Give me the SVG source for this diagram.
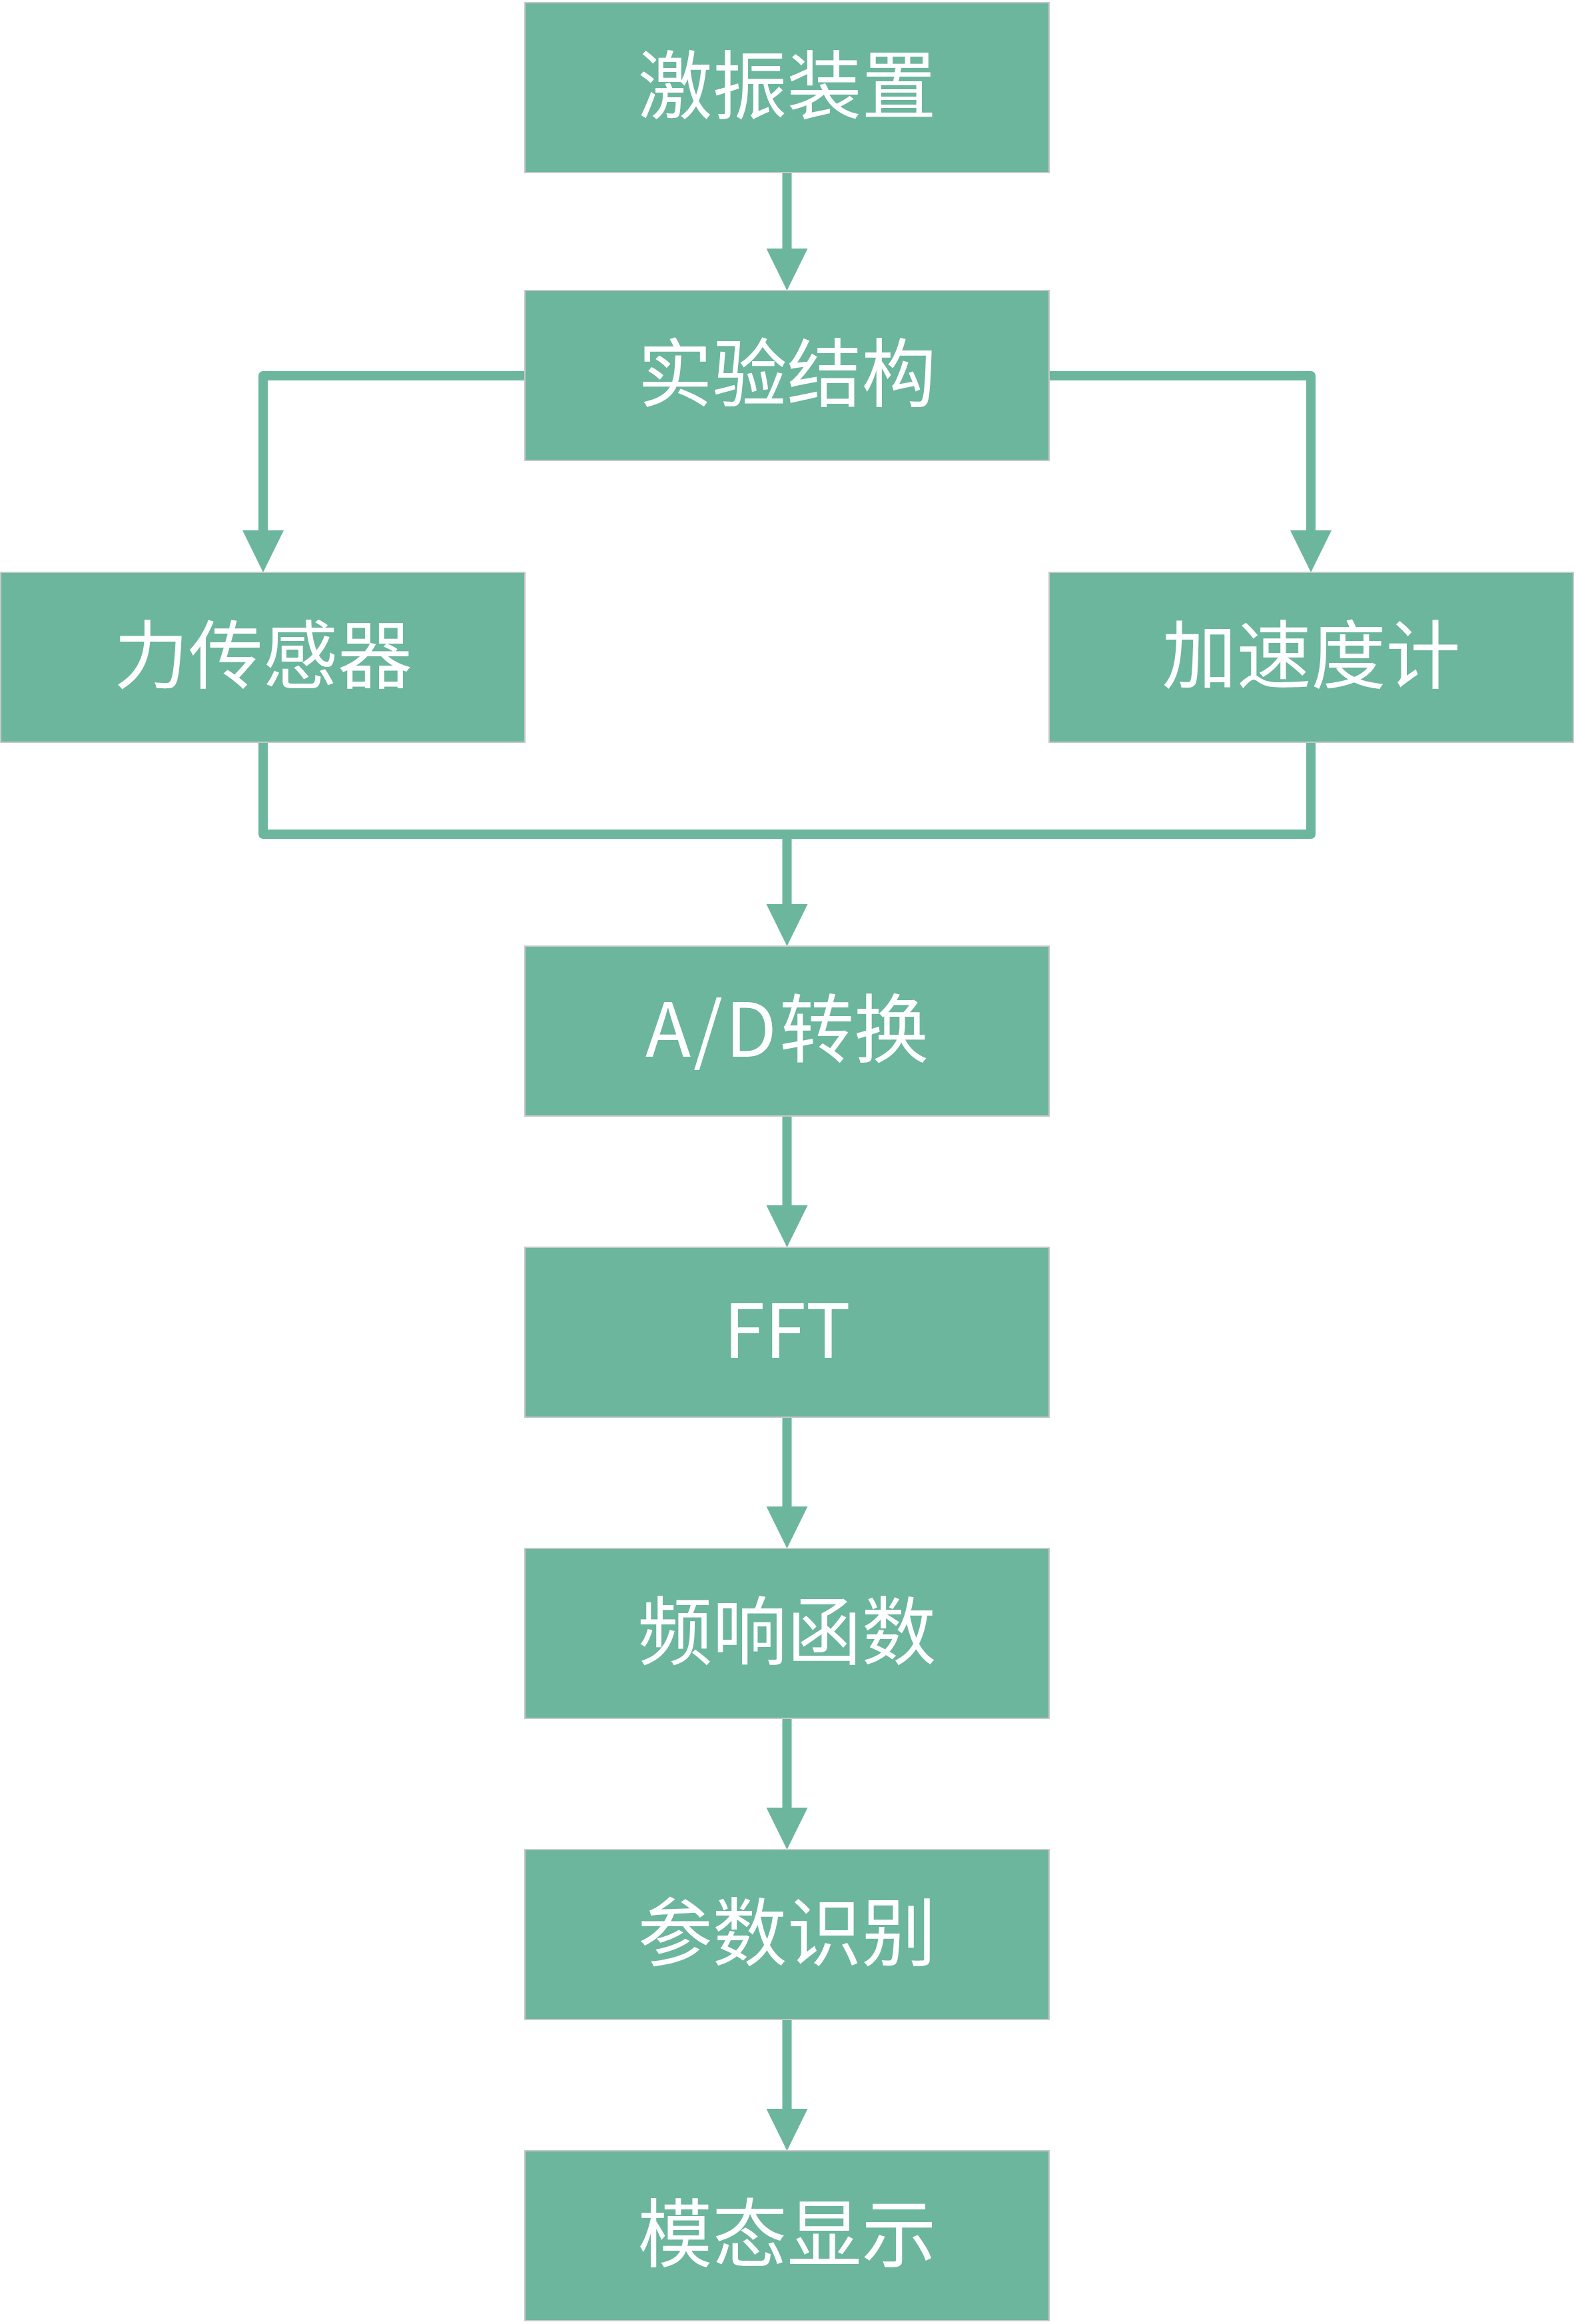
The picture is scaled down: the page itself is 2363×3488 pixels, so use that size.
<svg xmlns="http://www.w3.org/2000/svg" xmlns:xlink="http://www.w3.org/1999/xlink" width="2363" height="3488" viewBox="0 0 2363 3488">
<style>
.box{fill:#6bb69c;stroke:#c8c8c8;stroke-width:2}
.lbl{fill:#ffffff;font-family:"Noto Sans CJK SC","Noto Sans",sans-serif;font-size:112px;text-anchor:middle}
.ln{fill:none;stroke:#6bb69c;stroke-width:14;stroke-linejoin:round}
.head{fill:#6bb69c}
</style>
<defs>
<polygon id="ah" points="-31,-63 31,-63 0,0"/>
</defs>
<rect x="0" y="0" width="2363" height="3488" fill="#ffffff"/>
<g id="connectors">
<path class="ln" d="M1181.5 259 V376"/>
<use xlink:href="#ah" href="#ah" class="head" x="1181.5" y="436"/>
<path class="ln" d="M788 564 H395 V799"/>
<use xlink:href="#ah" href="#ah" class="head" x="395" y="859"/>
<path class="ln" d="M1575 564 H1968 V799"/>
<use xlink:href="#ah" href="#ah" class="head" x="1968" y="859"/>
<path class="ln" d="M395 1114 V1252 H1968 V1114"/>
<path class="ln" d="M1181.5 1252 V1360"/>
<use xlink:href="#ah" href="#ah" class="head" x="1181.5" y="1420"/>
<path class="ln" d="M1181.5 1675 V1812"/>
<use xlink:href="#ah" href="#ah" class="head" x="1181.5" y="1872"/>
<path class="ln" d="M1181.5 2127 V2264"/>
<use xlink:href="#ah" href="#ah" class="head" x="1181.5" y="2324"/>
<path class="ln" d="M1181.5 2579 V2716"/>
<use xlink:href="#ah" href="#ah" class="head" x="1181.5" y="2776"/>
<path class="ln" d="M1181.5 3031 V3168"/>
<use xlink:href="#ah" href="#ah" class="head" x="1181.5" y="3228"/>
</g>
<g id="n1"><rect class="box" x="788" y="4" width="787" height="255"/><text class="lbl" x="1181.5" y="170">激振装置</text></g>
<g id="n2"><rect class="box" x="788" y="436" width="787" height="255"/><text class="lbl" x="1181.5" y="602">实验结构</text></g>
<g id="n3"><rect class="box" x="1" y="859" width="787" height="255"/><text class="lbl" x="395" y="1025">力传感器</text></g>
<g id="n4"><rect class="box" x="1575" y="859" width="787" height="255"/><text class="lbl" x="1968.5" y="1025">加速度计</text></g>
<g id="n5"><rect class="box" x="788" y="1420" width="787" height="255"/><text class="lbl" x="1181.5" y="1586"><tspan letter-spacing="4">A/D</tspan>转换</text></g>
<g id="n6"><rect class="box" x="788" y="1872" width="787" height="255"/><text class="lbl" x="1181.5" y="2038">FFT</text></g>
<g id="n7"><rect class="box" x="788" y="2324" width="787" height="255"/><text class="lbl" x="1181.5" y="2490">频响函数</text></g>
<g id="n8"><rect class="box" x="788" y="2776" width="787" height="255"/><text class="lbl" x="1181.5" y="2942">参数识别</text></g>
<g id="n9"><rect class="box" x="788" y="3228" width="787" height="255"/><text class="lbl" x="1181.5" y="3394">模态显示</text></g>
</svg>
